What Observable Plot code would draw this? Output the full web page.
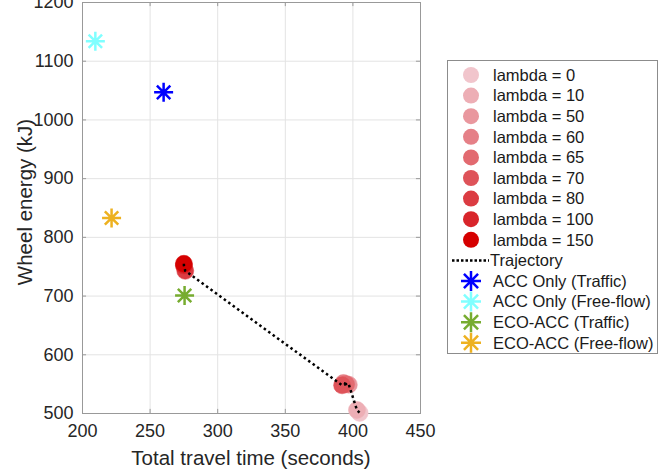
<!DOCTYPE html>
<html>
<head>
<meta charset="utf-8">
<script src="https://cdn.jsdelivr.net/npm/d3@7"></script>
<script src="https://cdn.jsdelivr.net/npm/@observablehq/plot@0.6"></script>
<style>
  html, body { margin: 0; padding: 0; background: #fff; }
  #wrap { position: relative; width: 658px; height: 471px; overflow: hidden; font-family: "Liberation Sans", Arial, Helvetica, sans-serif; color: #262626; }
  #legend { position: absolute; left: 447px; top: 60px; }
  .axlabel { position: absolute; font-size: 20.5px; white-space: nowrap; line-height: 1; }
  #xlabel { left: 251px; top: 458px; transform: translate(-50%, -50%); }
  #ylabel { left: 25px; top: 202px; transform: translate(-50%, -50%) rotate(-90deg); }
</style>
</head>
<body>
<div id="wrap">
  <div class="axlabel" id="xlabel">Total travel time (seconds)</div>
  <div class="axlabel" id="ylabel">Wheel energy (kJ)</div>
</div>
<script>
// ---- data ----
const lambdas = [0, 10, 50, 60, 65, 70, 80, 100, 150];
const travelTime = [405, 403, 397, 393, 395, 392, 276, 275, 275];
const wheelEnergy = [501, 506, 549, 552, 550, 548, 743, 752, 755];

const refLabels = ["ACC Only (Traffic)", "ACC Only (Free-flow)", "ECO-ACC (Traffic)", "ECO-ACC (Free-flow)"];
const refTime = [260, 209.5, 275.5, 221.5];
const refEnergy = [1047, 1134, 701, 833];

const xTicks = [200, 250, 300, 350, 400, 450];
const yTicks = [500, 600, 700, 800, 900, 1000, 1100, 1200];

// ---- styles ----
const lambdaColors = ["#f1c5cc", "#edaeb5", "#e9979e", "#e58087", "#e26a70", "#de5359", "#db3c42", "#d8252b", "#d50000"];
const refColors = ["#0000ff", "#80ffff", "#77ac30", "#edb120"];
const axisGray = "#999999";

const lambdaData = lambdas.map((l, i) => ({lambda: l, t: travelTime[i], e: wheelEnergy[i], color: lambdaColors[i]}));
const trajectory = lambdaData.slice().sort((a, b) => b.lambda - a.lambda);
const refData = refLabels.map((name, i) => ({name, t: refTime[i], e: refEnergy[i], color: refColors[i]}));

const asterisk8 = {
  draw(ctx, size) {
    const r = Math.sqrt(size / Math.PI);
    const d = r * Math.SQRT1_2;
    ctx.moveTo(-r, 0); ctx.lineTo(r, 0);
    ctx.moveTo(0, -r); ctx.lineTo(0, r);
    ctx.moveTo(-d, -d); ctx.lineTo(d, d);
    ctx.moveTo(-d, d); ctx.lineTo(d, -d);
  }
};

const chart = Plot.plot({
  width: 658,
  height: 471,
  marginLeft: 82,
  marginRight: 238,
  marginTop: 2,
  marginBottom: 58,
  style: {fontFamily: '"Liberation Sans", Arial, Helvetica, sans-serif', background: "white", color: "#262626"},
  x: {domain: [200, 450], axis: null},
  y: {domain: [500, 1200], axis: null},
  color: {type: "identity"},
  marks: [
    Plot.gridX(xTicks, {stroke: "#e3e3e3", strokeOpacity: 1}),
    Plot.gridY(yTicks, {stroke: "#e3e3e3", strokeOpacity: 1}),
    Plot.frame({stroke: axisGray}),
    Plot.ruleX(xTicks, {y1: 500, y2: 507, stroke: axisGray}),
    Plot.ruleX(xTicks, {y1: 1200, y2: 1193, stroke: axisGray}),
    Plot.ruleY(yTicks, {x1: 200, x2: 203, stroke: axisGray}),
    Plot.ruleY(yTicks, {x1: 450, x2: 447, stroke: axisGray}),
    Plot.axisX(xTicks, {tickSize: 0, tickPadding: 11, fontSize: 18, fill: "#262626", label: null, tickFormat: d => String(d)}),
    Plot.axisY(yTicks, {tickSize: 0, tickPadding: 9, fontSize: 18, fill: "#262626", label: null, tickFormat: d => String(d)}),
    Plot.dot(lambdaData, {x: "t", y: "e", r: 8.5, fill: "color", stroke: "color", strokeWidth: 0.5}),
    Plot.line(trajectory, {x: "t", y: "e", stroke: "black", strokeWidth: 2.5, strokeDasharray: "2.5,3", strokeLinecap: "butt"}),
    Plot.dot(refData, {x: "t", y: "e", r: 9.5, symbol: asterisk8, stroke: "color", strokeWidth: 2.5})
  ]
});

const wrap = document.getElementById("wrap");
wrap.insertBefore(chart, wrap.firstChild);

// ---- legend ----
const entries = [
  ...lambdas.map((l, i) => ({kind: "dot", label: `lambda = ${l}`, color: lambdaColors[i]})),
  {kind: "line", label: "Trajectory"},
  ...refLabels.map((name, i) => ({kind: "star", label: name, color: refColors[i]}))
];
const lw = 211, lh = 294, rowStart = 15, rowStep = 20.6;
const legend = d3.create("svg")
  .attr("id", "legend")
  .attr("width", lw)
  .attr("height", lh)
  .style("font-family", '"Liberation Sans", Arial, Helvetica, sans-serif');
legend.append("rect").attr("x", 0.5).attr("y", 0.5).attr("width", lw - 1).attr("height", lh - 1)
  .attr("fill", "white").attr("stroke", "#8c8c8c");
const star = d3.symbol().type(asterisk8).size(Math.PI * 10 * 10);
entries.forEach((d, i) => {
  const y = rowStart + i * rowStep;
  const g = legend.append("g");
  if (d.kind === "dot") {
    g.append("circle").attr("cx", 24).attr("cy", y).attr("r", 8).attr("fill", d.color);
  } else if (d.kind === "line") {
    g.append("line").attr("x1", 5).attr("x2", 42).attr("y1", y).attr("y2", y)
      .attr("stroke", "black").attr("stroke-width", 2.5).attr("stroke-dasharray", "2.5,2");
  } else {
    g.append("path").attr("d", star()).attr("transform", `translate(24,${y})`)
      .attr("fill", "none").attr("stroke", d.color).attr("stroke-width", 2.5);
  }
  g.append("text").attr("x", d.kind === "line" ? 43 : 46).attr("y", y).attr("dy", "0.35em")
    .attr("font-size", 16.5).attr("fill", "#1a1a1a").text(d.label);
});
wrap.appendChild(legend.node());
</script>
</body>
</html>
